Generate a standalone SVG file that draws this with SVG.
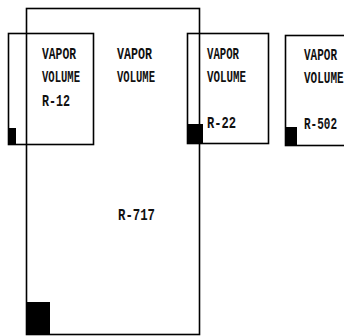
<svg xmlns="http://www.w3.org/2000/svg" width="344" height="336" viewBox="0 0 344 336">
<style>
.box{fill:none;stroke:#000;stroke-width:1.6}
.blk{fill:#000}
.t{font-family:"Liberation Mono","Courier New",monospace;font-size:11px;font-weight:bold;fill:#111}
</style>
<rect width="344" height="336" fill="#fff"/>
<g id="r717">
<rect class="box" x="26.5" y="8.5" width="173" height="326"/>
<rect class="blk" x="27" y="302" width="23" height="33"/>
<text class="t" transform="translate(117 59) scale(1 1.45)" textLength="35" lengthAdjust="spacingAndGlyphs">VAPOR</text>
<text class="t" transform="translate(117 82) scale(1 1.45)" textLength="38" lengthAdjust="spacingAndGlyphs">VOLUME</text>
<text class="t" transform="translate(118 220) scale(1 1.45)" textLength="37" lengthAdjust="spacingAndGlyphs">R-717</text>
</g>
<g id="r12">
<rect class="box" x="8.5" y="33.5" width="85" height="111"/>
<rect class="blk" x="8" y="128" width="8" height="17"/>
<text class="t" transform="translate(42 59) scale(1 1.45)" textLength="34" lengthAdjust="spacingAndGlyphs">VAPOR</text>
<text class="t" transform="translate(42 82) scale(1 1.45)" textLength="38" lengthAdjust="spacingAndGlyphs">VOLUME</text>
<text class="t" transform="translate(42 106) scale(1 1.45)" textLength="28" lengthAdjust="spacingAndGlyphs">R-12</text>
</g>
<g id="r22">
<rect class="box" x="187.5" y="33.5" width="81" height="110"/>
<rect class="blk" x="187" y="124" width="16" height="19"/>
<text class="t" transform="translate(207 59) scale(1 1.45)" textLength="32" lengthAdjust="spacingAndGlyphs">VAPOR</text>
<text class="t" transform="translate(207 82) scale(1 1.45)" textLength="39" lengthAdjust="spacingAndGlyphs">VOLUME</text>
<text class="t" transform="translate(207 128) scale(1 1.45)" textLength="29" lengthAdjust="spacingAndGlyphs">R-22</text>
</g>
<g id="r502">
<rect class="box" x="285.5" y="35.5" width="70" height="110"/>
<rect class="blk" x="285" y="127" width="12" height="18"/>
<text class="t" transform="translate(304 60) scale(1 1.45)">VAPOR</text>
<text class="t" transform="translate(304 83) scale(1 1.45)">VOLUME</text>
<text class="t" transform="translate(304 129) scale(1 1.45)">R-502</text>
</g>
<g id="connectors"></g>
</svg>
